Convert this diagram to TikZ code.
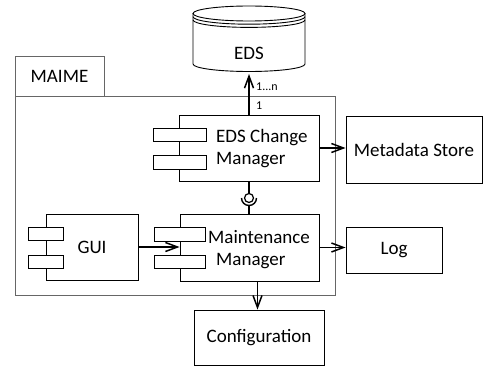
\documentclass[tikz,border=0pt]{standalone}
\usepackage{fontspec}
\setmainfont{Carlito}
\usetikzlibrary{arrows.meta}
\begin{document}
\begin{tikzpicture}[x=1pt,y=-1pt,
  every node/.style={font=\fontsize{19}{22}\selectfont},
  rline/.style={draw=black, line width=0.9pt},
  rbox/.style={draw=black, line width=0.9pt, fill=white, inner sep=0pt},
  pkgbox/.style={draw=black!60, line width=0.9pt, inner sep=0pt},
  sz/.style 2 args={minimum width=#1pt, minimum height=#2pt},
  txt/.style={inner sep=0pt, align=left},
  mult/.style={inner sep=0pt, font=\fontsize{12}{14}\selectfont},
  conn/.style={draw=black, line width=1.8pt, -{Straight Barb[length=12pt,width=9pt,line width=1.5pt]}},
  socket/.style={draw=black, line width=1.4pt}]
\useasboundingbox (0,0) rectangle (485,369);

% EDS data store
\draw[rline, fill=white] (193,13.5) -- (193,64) arc[start angle=180,end angle=360,x radius=56pt,y radius=7.5pt] -- (305,13.5);
\draw[rline] (249,13.5) ellipse[x radius=56pt, y radius=7.5pt];
\draw[rline] (193,16.7) arc[start angle=180,end angle=360,x radius=56pt,y radius=7.5pt];
\draw[rline] (193,19.9) arc[start angle=180,end angle=360,x radius=56pt,y radius=7.5pt];
\node (eds) at (249,53) {EDS};
\coordinate (edsb) at (249,74);

% package MAIME
\node[pkgbox, sz={89}{40}] (tab) at (59.5,76) {MAIME};
\node[pkgbox, sz={320}{199}] (pkg) at (175,195.5) {};

% EDS Change Manager
\node[rbox, sz={140}{66}] (ecm) at (249,148) {};
\node[rbox, sz={53}{13}] (ecmp1) at (179.5,134.5) {};
\node[rbox, sz={53}{14}] (ecmp2) at (179.5,162) {};
\node[txt, anchor=north west] (ecmt) at (216,129.5) {EDS Change\\Manager};

% Maintenance Manager
\node[rbox, sz={139}{67}] (mm) at (249.5,247.5) {};
\node[rbox, sz={51}{14}] (mmp1) at (179.5,234) {};
\node[rbox, sz={51}{13}] (mmp2) at (179.5,261.5) {};
\node[txt, anchor=north west] (mmt) at (208,230) {Maintenance\\\hspace*{8pt}Manager};

% GUI
\node[rbox, sz={92}{66}] (gui) at (92,247) {GUI};
\node[rbox, sz={35}{13}] (guip1) at (45.5,233.5) {};
\node[rbox, sz={35}{13}] (guip2) at (45.5,261.5) {};

% external boxes
\node[rbox, sz={136}{67}] (meta) at (414,149.5) {Metadata Store};
\node[rbox, sz={96}{46}] (log) at (394,250) {Log};
\node[rbox, sz={130}{55}] (conf) at (259,337.5) {Configuration};

% lollipop interface
\node[circle, draw=black, line width=1.2pt, minimum size=9pt, inner sep=0pt] (ball) at (249,198) {};
\draw[socket] (ecm.south) -- (ball.north);
\draw[socket] (241.5,198) arc[start angle=180,end angle=360,radius=7.5pt] coordinate[pos=0.5] (sock);
\draw[socket] (sock) -- (sock |- mm.north);

% connectors
\draw[conn] (ecm.north) -- (edsb);
\node[mult, anchor=west] (m1) at (256,87) {1...n};
\node[mult, anchor=west] (m2) at (256,106) {1};
\draw[conn] (ecm.east) -- (ecm.east -| meta.west);
\draw[conn] (mm.east) -- (mm.east -| log.west);
\draw[conn] (gui.east) -- (gui.east -| mm.west);
\draw[conn] ([xshift=8pt]mm.south) -- ([xshift=8pt]mm.south |- conf.north);
\end{tikzpicture}
\end{document}
